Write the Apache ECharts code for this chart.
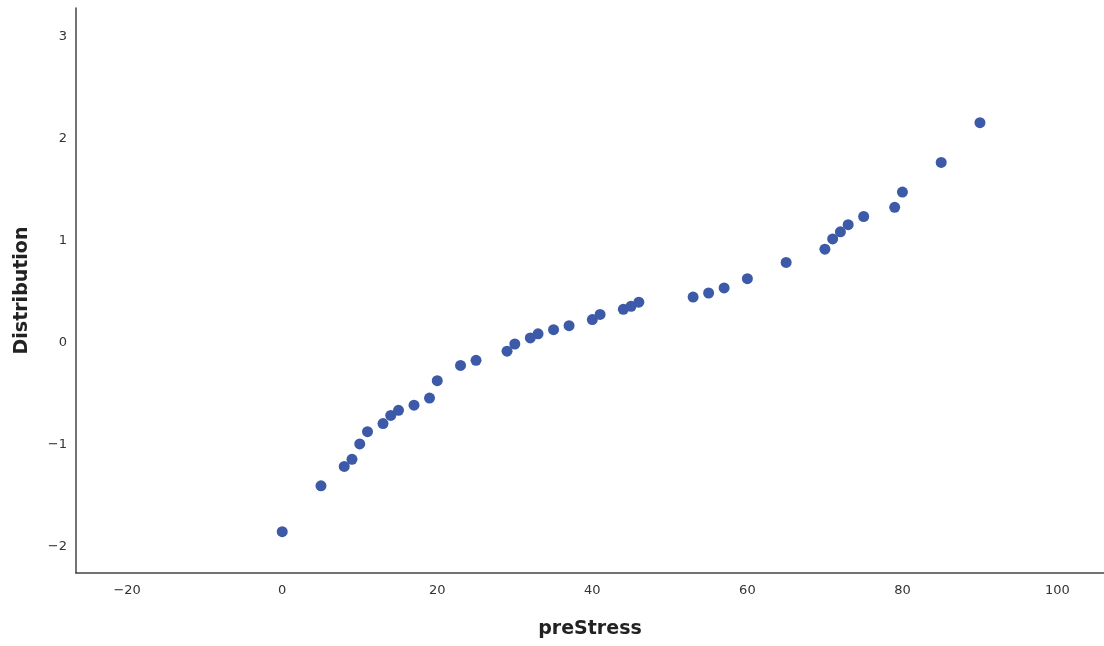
<!DOCTYPE html>
<html>
<head>
<meta charset="utf-8">
<script src="https://cdn.jsdelivr.net/npm/echarts@6/dist/echarts.min.js"></script>
<style>
  html, body { margin: 0; padding: 0; background: #fff; }
  #chart { width: 1104px; height: 646px; }
</style>
</head>
<body>
<div id="chart"></div>
<script>
// preStress values and their normal distribution scores
var preStress = [0, 5, 8, 9, 10, 11, 13, 14, 15, 17, 19, 20, 23, 25, 29, 30, 32, 33, 35, 37,
    40, 41, 44, 45, 46, 53, 55, 57, 60, 65, 70, 71, 72, 73, 75, 79, 80, 85, 90];
var distribution = [-1.85, -1.40, -1.21, -1.14, -0.99, -0.87, -0.79, -0.71, -0.66, -0.61, -0.54, -0.37,
    -0.22, -0.17, -0.08, -0.01, 0.05, 0.09, 0.13, 0.17, 0.23, 0.28, 0.33, 0.36, 0.40, 0.45, 0.49,
    0.54, 0.63, 0.79, 0.92, 1.02, 1.09, 1.16, 1.24, 1.33, 1.48, 1.77, 2.16];
var xTicks = [-20, 0, 20, 40, 60, 80, 100];
var yTicks = [-2, -1, 0, 1, 2, 3];

var points = preStress.map(function (v, i) { return [v, distribution[i]]; });

function minusSign(v) {
    return String(v).replace('-', '\u2212');
}

var myChart = echarts.init(document.getElementById('chart'));
myChart.setOption({
    animation: false,
    grid: { left: 76, right: 0, top: 8, bottom: 73 },
    xAxis: {
        type: 'value',
        min: -26.6,
        max: 106,
        name: 'preStress',
        nameLocation: 'middle',
        nameGap: 47,
        nameTextStyle: { fontFamily: 'DejaVu Sans', fontWeight: 'bold', fontSize: 19, color: '#222' },
        axisLine: { show: true, onZero: false, lineStyle: { color: '#444', width: 1.5 } },
        axisTick: { show: false },
        splitLine: { show: false },
        axisLabel: {
            customValues: xTicks,
            formatter: minusSign,
            margin: 11,
            fontFamily: 'DejaVu Sans',
            fontSize: 13,
            color: '#333'
        }
    },
    yAxis: {
        type: 'value',
        min: -2.255,
        max: 3.284,
        name: 'Distribution',
        nameLocation: 'middle',
        nameGap: 44,
        nameRotate: 90,
        nameTextStyle: { fontFamily: 'DejaVu Sans', fontWeight: 'bold', fontSize: 19, color: '#222' },
        axisLine: { show: true, onZero: false, lineStyle: { color: '#444', width: 1.5 } },
        axisTick: { show: false },
        splitLine: { show: false },
        axisLabel: {
            customValues: yTicks,
            formatter: minusSign,
            margin: 9,
            fontFamily: 'DejaVu Sans',
            fontSize: 13,
            color: '#333'
        }
    },
    series: [{
        type: 'scatter',
        data: points,
        symbolSize: 11,
        itemStyle: { color: '#3d5aa9', opacity: 1 }
    }]
});
</script>
</body>
</html>
